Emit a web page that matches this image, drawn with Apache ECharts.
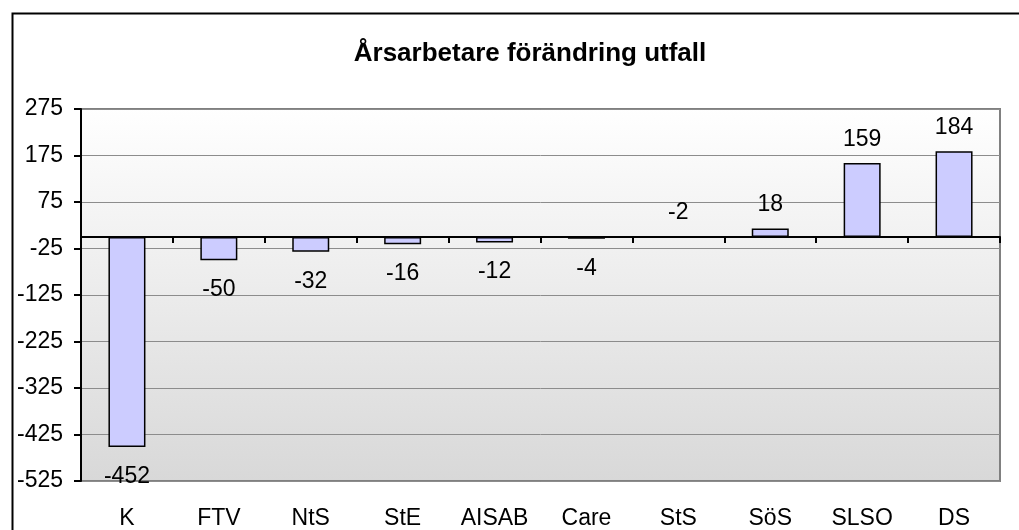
<!DOCTYPE html>
<html>
<head>
<meta charset="utf-8">
<style>
html,body{margin:0;padding:0;background:#fff;}
#chart{width:1019px;height:530px;}
</style>
<script src="https://cdn.jsdelivr.net/npm/echarts@6/dist/echarts.min.js"></script>
</head>
<body>
<div id="chart"></div>
<script>
const title = 'Årsarbetare förändring utfall';
const categories = ['K','FTV','NtS','StE','AISAB','Care','StS','SöS','SLSO','DS'];
const values = [-452,-50,-32,-16,-12,-4,-2,18,159,184];
const yMin = -525, yMax = 275, yStep = 100;
const labelAbove = ['StS'];

const font = '"Liberation Sans", Arial, sans-serif';
const chart = echarts.init(document.getElementById('chart'));
const data = values.map((v, i) => {
  const above = v >= 0 || labelAbove.includes(categories[i]);
  return { value: v, label: { position: above ? 'top' : 'bottom', distance: above ? 12 : 18 } };
});
chart.setOption({
  animation: false,
  title: {
    text: title, left: 525, top: 36, textAlign: 'center',
    textStyle: { fontFamily: font, fontSize: 26, fontWeight: 'bold', color: '#000' }
  },
  graphic: [{
    type: 'rect', left: 10, top: 11, shape: { width: 1200, height: 700 },
    style: { fill: 'none', stroke: '#000', lineWidth: 2 }, silent: true, z: -10
  }],
  grid: {
    left: 81, right: 19, top: 109, bottom: 48, show: true,
    backgroundColor: new echarts.graphic.LinearGradient(0, 0, 0, 1, [
      { offset: 0, color: '#ffffff' }, { offset: 1, color: '#d8d8d8' }
    ]),
    borderColor: '#808080', borderWidth: 2
  },
  xAxis: [{
    type: 'category', data: categories,
    axisLine: { onZero: true, lineStyle: { color: '#000', width: 2 } },
    axisTick: { show: true, inside: false, length: 6, lineStyle: { color: '#000', width: 2 } },
    axisLabel: { show: false }
  }, {
    type: 'category', data: categories, position: 'bottom',
    axisLine: { show: false }, axisTick: { show: false },
    axisLabel: { margin: 26, fontFamily: font, fontSize: 23, color: '#000' }
  }],
  yAxis: {
    type: 'value', min: yMin, max: yMax, interval: yStep,
    axisLine: { show: true, lineStyle: { color: '#000', width: 2 } },
    axisTick: { show: true, length: 7, lineStyle: { color: '#000', width: 2 } },
    axisLabel: { margin: 18, fontFamily: font, fontSize: 23, color: '#000' },
    splitLine: { show: true, lineStyle: { color: '#8c8c8c', width: 1 } }
  },
  series: [{
    type: 'bar', data: data, barWidth: 37, xAxisIndex: 0,
    itemStyle: { color: '#ccccff', borderColor: '#000', borderWidth: 1.5 },
    label: { show: true, fontFamily: font, fontSize: 23, color: '#000' }
  }]
});
</script>
</body>
</html>
